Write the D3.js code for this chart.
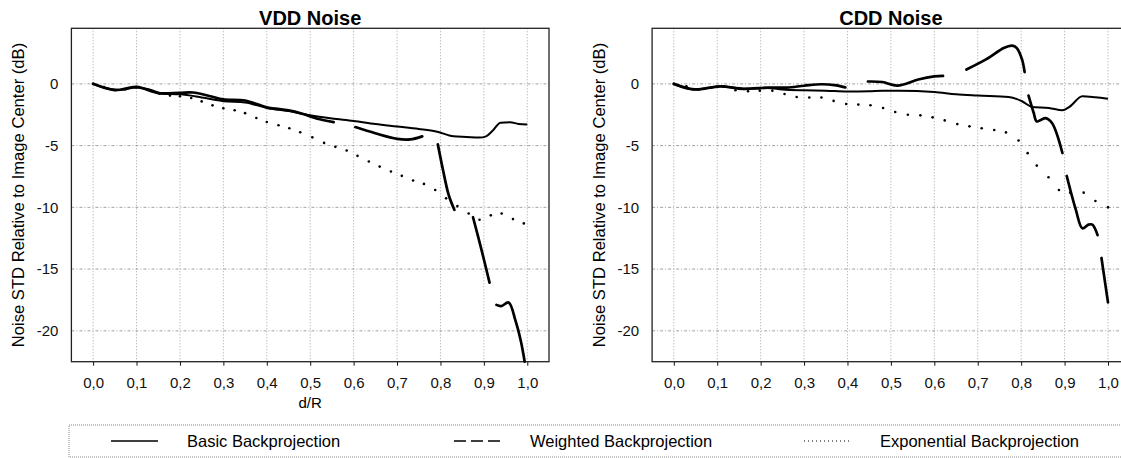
<!DOCTYPE html>
<html>
<head>
<meta charset="utf-8">
<script src="https://cdn.jsdelivr.net/npm/d3@7"></script>
<style>
  body { margin: 0; background: #fff; }
  svg { display: block; font-family: "Liberation Sans", Arial, sans-serif; }
</style>
</head>
<body>
<div id="chart"></div>
<script>
// panel titles and tick values
var titles = ["VDD Noise", "CDD Noise"];
var xTicks = [0, 0.1, 0.2, 0.3, 0.4, 0.5, 0.6, 0.7, 0.8, 0.9, 1.0];
var yTicks = [0, -5, -10, -15, -20];
var legendLabels = ["Basic Backprojection", "Weighted Backprojection", "Exponential Backprojection"];

// VDD series, [d/R, dB]; null = gap in the long-dash line
var vddBasic = [[0,0],[0.03,-0.35],[0.06,-0.5],[0.1,-0.3],[0.13,-0.45],[0.16,-0.8],[0.2,-0.85],[0.25,-1.1],
  [0.3,-1.4],[0.35,-1.5],[0.4,-1.95],[0.45,-2.2],[0.5,-2.55],[0.55,-2.8],[0.6,-3.0],[0.65,-3.25],[0.7,-3.45],
  [0.75,-3.65],[0.79,-3.85],[0.83,-4.25],[0.86,-4.3],[0.89,-4.35],[0.905,-4.25],[0.92,-3.8],[0.938,-3.15],
  [0.96,-3.1],[0.98,-3.25],[1.0,-3.3]];
var vddWeighted = [[0,0],[0.05,-0.5],[0.1,-0.25],[0.15,-0.75],[0.2,-0.72],[0.23,-0.7],[0.27,-1.0],[0.3,-1.25],
  [0.35,-1.35],[0.4,-1.9],[0.45,-2.15],[0.48,-2.4],[0.52,-2.85],[0.554,-3.1], null,
  [0.604,-3.5],[0.65,-4.0],[0.7,-4.45],[0.73,-4.5],[0.758,-4.25], null,
  [0.794,-4.9],[0.806,-7.0],[0.819,-9.0],[0.832,-10.2], null,
  [0.875,-10.8],[0.895,-13.5],[0.913,-16.1], null,
  [0.929,-17.9],[0.94,-18.0],[0.957,-17.7],[0.973,-19.2],[0.985,-20.8],[0.994,-22.5]];
var vddExp = [[0,0],[0.025,-0.25],[0.05,-0.5],[0.074,-0.45],[0.099,-0.3],[0.124,-0.45],[0.153,-0.79],[0.177,-0.95],
  [0.2,-1.0],[0.226,-1.14],[0.25,-1.42],[0.275,-1.74],[0.3,-1.97],[0.326,-2.14],[0.35,-2.37],[0.376,-2.77],
  [0.4,-3.09],[0.427,-3.35],[0.452,-3.6],[0.477,-3.92],[0.505,-4.33],[0.532,-4.78],[0.558,-5.1],[0.584,-5.4],
  [0.609,-5.83],[0.635,-6.29],[0.66,-6.7],[0.686,-7.1],[0.711,-7.45],[0.737,-7.83],[0.762,-8.1],[0.788,-8.59],
  [0.813,-9.27],[0.839,-9.9],[0.865,-10.5],[0.89,-11.0],[0.916,-10.65],[0.941,-10.5],[0.967,-10.95],[0.992,-11.3]];

// CDD series
var cddBasic = [[0,0],[0.02,-0.25],[0.047,-0.46],[0.075,-0.35],[0.107,-0.2],[0.135,-0.3],[0.16,-0.4],[0.19,-0.38],
  [0.216,-0.33],[0.25,-0.45],[0.3,-0.52],[0.35,-0.55],[0.4,-0.62],[0.45,-0.6],[0.48,-0.55],[0.52,-0.55],
  [0.6,-0.65],[0.65,-0.85],[0.7,-0.95],[0.771,-1.06],[0.802,-1.41],[0.825,-1.87],[0.864,-1.95],[0.895,-2.14],
  [0.911,-1.87],[0.941,-1.0],[0.971,-1.08],[1.0,-1.2]];
var cddWeighted = [[0,0],[0.047,-0.45],[0.107,-0.2],[0.16,-0.4],[0.216,-0.3],[0.26,-0.3],[0.3,-0.15],
  [0.34,-0.03],[0.37,-0.1],[0.395,-0.28], null,
  [0.447,0.19],[0.48,0.15],[0.515,-0.14],[0.563,0.35],[0.6,0.6],[0.62,0.65], null,
  [0.674,1.16],[0.72,2.0],[0.76,2.9],[0.779,3.1],[0.79,2.9],[0.802,1.98],[0.808,0.95], null,
  [0.817,-0.95],[0.829,-2.36],[0.836,-3.04],[0.856,-2.77],[0.871,-3.17],[0.895,-5.6], null,
  [0.905,-7.46],[0.926,-10.2],[0.941,-11.7],[0.955,-11.4],[0.964,-11.4],[0.976,-12.25], null,
  [0.985,-14.1],[1.0,-17.7]];
var cddExp = [[0,0],[0.029,-0.2],[0.057,-0.45],[0.086,-0.3],[0.114,-0.2],[0.142,-0.52],[0.171,-0.6],[0.198,-0.55],
  [0.227,-0.55],[0.255,-0.82],[0.283,-1.06],[0.312,-1.11],[0.34,-1.11],[0.368,-1.38],[0.397,-1.63],[0.425,-1.68],
  [0.453,-1.73],[0.482,-1.95],[0.51,-2.28],[0.539,-2.5],[0.568,-2.55],[0.596,-2.71],[0.624,-2.96],[0.653,-3.26],
  [0.681,-3.44],[0.709,-3.6],[0.738,-3.74],[0.765,-3.93],[0.794,-4.59],[0.815,-5.61],[0.836,-6.62],[0.863,-7.56],
  [0.887,-8.59],[0.913,-8.81],[0.944,-8.81],[0.971,-9.49],[1.0,-10.0]];

var W = 1121, H = 458;
var svg = d3.select("#chart").append("svg").attr("width", W).attr("height", H);

var panels = [
  { title: titles[0], left: 71.4, basic: vddBasic, weighted: vddWeighted, exp: vddExp, xlabel: "d/R" },
  { title: titles[1], left: 652.1, basic: cddBasic, weighted: cddWeighted, exp: cddExp, xlabel: null }
];
var plotW = 477.6, plotTop = 28.3, plotBottom = 361.7;

panels.forEach(function(p) {
  var x = d3.scaleLinear().domain([-0.05, 1.05]).range([p.left, p.left + plotW]);
  var y = d3.scaleLinear().domain([-22.5, 4.5]).range([plotBottom, plotTop]);
  var g = svg.append("g");

  // grid
  g.selectAll(".vg").data(xTicks).enter().append("line")
    .attr("x1", function(d) { return x(d); }).attr("x2", function(d) { return x(d); })
    .attr("y1", plotTop).attr("y2", plotBottom)
    .attr("stroke", "#8a8a8a").attr("stroke-width", 0.8).attr("stroke-dasharray", "1,2");
  g.selectAll(".hg").data(yTicks).enter().append("line")
    .attr("x1", p.left).attr("x2", p.left + plotW)
    .attr("y1", function(d) { return y(d); }).attr("y2", function(d) { return y(d); })
    .attr("stroke", "#8a8a8a").attr("stroke-width", 0.8).attr("stroke-dasharray", "3,2,1,2");

  // axes
  var xa = g.append("g").attr("transform", "translate(0," + plotBottom + ")")
    .call(d3.axisBottom(x).tickValues(xTicks).tickSize(4).tickPadding(12)
      .tickFormat(function(d) { return d3.format(".1f")(d).replace(".", ","); }));
  var ya = g.append("g").attr("transform", "translate(" + p.left + ",0)")
    .call(d3.axisLeft(y).tickValues(yTicks).tickSize(0).tickPadding(13)
      .tickFormat(function(d) { return d === 0 ? "0" : "-" + Math.abs(d); }));
  [xa, ya].forEach(function(a) {
    a.select(".domain").remove();
    a.selectAll("text").attr("font-size", 15).attr("fill", "#111").attr("font-family", "Liberation Sans, Arial, sans-serif");
    a.selectAll("line").attr("stroke", "#111");
  });

  // frame
  g.append("rect").attr("x", p.left).attr("y", plotTop).attr("width", plotW).attr("height", plotBottom - plotTop)
    .attr("fill", "none").attr("stroke", "#222").attr("stroke-width", 1.3);

  var clipId = "clip" + Math.round(p.left);
  g.append("clipPath").attr("id", clipId).append("rect")
    .attr("x", p.left).attr("y", plotTop).attr("width", plotW).attr("height", plotBottom - plotTop + 2);
  var plot = g.append("g").attr("clip-path", "url(#" + clipId + ")");

  var line = d3.line().defined(function(d) { return d !== null; })
    .x(function(d) { return x(d[0]); }).y(function(d) { return y(d[1]); })
    .curve(d3.curveMonotoneX);
  var lineW = d3.line().defined(function(d) { return d !== null; })
    .x(function(d) { return x(d[0]); }).y(function(d) { return y(d[1]); })
    .curve(d3.curveCatmullRom.alpha(0.5));

  // exponential: dots at sample points
  plot.selectAll(".dot").data(p.exp).enter().append("circle")
    .attr("cx", function(d) { return x(d[0]); }).attr("cy", function(d) { return y(d[1]); })
    .attr("r", 1.3).attr("fill", "#000");

  plot.append("path").datum(p.basic).attr("d", line)
    .attr("fill", "none").attr("stroke", "#000").attr("stroke-width", 2).attr("stroke-linejoin", "round");
  plot.append("path").datum(p.weighted).attr("d", lineW)
    .attr("fill", "none").attr("stroke", "#000").attr("stroke-width", 2.7)
    .attr("stroke-linecap", "round").attr("stroke-linejoin", "round");

  // title
  svg.append("text").attr("x", x(0.5)).attr("y", 25).attr("text-anchor", "middle")
    .attr("font-size", 20).attr("font-weight", "bold").text(p.title);

  // y label
  svg.append("text").attr("transform", "translate(" + (p.left - 53) + "," + ((plotTop + plotBottom) / 2) + ") rotate(-90)")
    .attr("text-anchor", "middle").attr("dy", "0.35em").attr("font-size", 16.6)
    .text("Noise STD Relative to Image Center (dB)");

  if (p.xlabel) {
    svg.append("text").attr("x", x(0.5)).attr("y", 408).attr("text-anchor", "middle")
      .attr("font-size", 15).text(p.xlabel);
  }
});

// legend
var lg = svg.append("g");
lg.append("rect").attr("x", 69).attr("y", 425).attr("width", 1060).attr("height", 32)
  .attr("fill", "none").attr("stroke", "#888").attr("stroke-width", 1).attr("stroke-dasharray", "1,1");
var legendX = [111, 454, 804];
var legendDash = [null, "12,5", "1,3"];
var legendWidth = [1.5, 1.5, 1];
legendLabels.forEach(function(lbl, i) {
  lg.append("line").attr("x1", legendX[i]).attr("x2", legendX[i] + 47).attr("y1", 441).attr("y2", 441)
    .attr("stroke", "#000").attr("stroke-width", legendWidth[i])
    .attr("stroke-dasharray", legendDash[i]);
  lg.append("text").attr("x", legendX[i] + 76).attr("y", 441).attr("dy", "0.35em")
    .attr("font-size", 16.5).text(lbl);
});
</script>
</body>
</html>
